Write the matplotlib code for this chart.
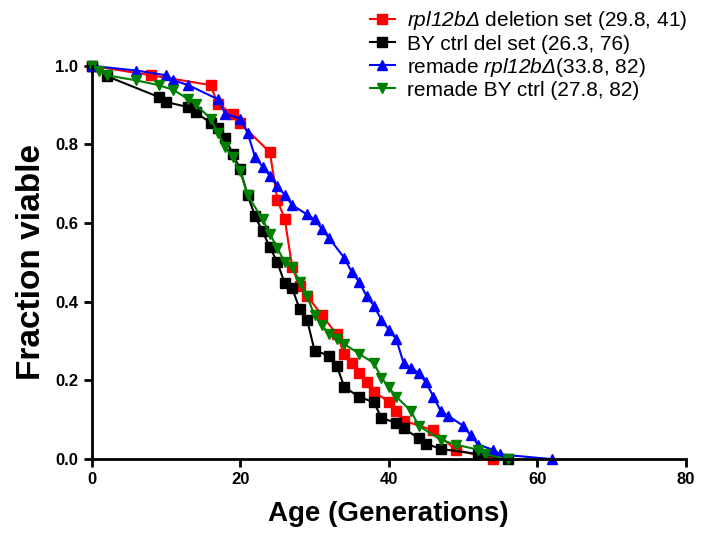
import matplotlib
matplotlib.use('Agg')
import matplotlib.pyplot as plt

plt.rcParams['font.family'] = ['Liberation Sans', 'DejaVu Sans']
plt.rcParams['mathtext.fontset'] = 'custom'
plt.rcParams['mathtext.rm'] = 'Liberation Sans:italic'
plt.rcParams['mathtext.it'] = 'Liberation Sans:italic'

# rpl12b deletion set (n=41)
red_x = [0, 8, 16, 17, 19, 20, 24, 25, 26, 27, 28, 29, 31, 33, 34, 35, 36, 37, 38, 40, 41, 42, 46, 49, 54]
red_y = [1.0, 0.976, 0.951, 0.902, 0.878, 0.854, 0.780, 0.659, 0.610, 0.488, 0.439, 0.415, 0.366,
         0.317, 0.268, 0.244, 0.220, 0.195, 0.171, 0.146, 0.122, 0.098, 0.073, 0.024, 0.0]

# BY ctrl del set (n=76)
black_x = [0, 2, 9, 10, 13, 14, 16, 17, 18, 19, 20, 21, 22, 23, 24, 25, 26, 27, 28, 29, 30, 32, 33,
           34, 36, 38, 39, 41, 42, 44, 45, 47, 52, 56]
black_y = [1.0, 0.974, 0.921, 0.908, 0.895, 0.882, 0.855, 0.842, 0.816, 0.776, 0.737, 0.671, 0.618,
           0.579, 0.539, 0.500, 0.447, 0.434, 0.382, 0.355, 0.276, 0.263, 0.237, 0.184, 0.158, 0.145,
           0.105, 0.092, 0.079, 0.053, 0.039, 0.026, 0.013, 0.0]

# remade rpl12b (n=82)
blue_x = [0, 6, 10, 11, 13, 17, 18, 20, 21, 22, 23, 24, 25, 26, 27, 29, 30, 31, 32, 34, 35, 36, 37,
          38, 39, 40, 41, 42, 43, 44, 45, 46, 47, 48, 50, 51, 52, 54, 55, 62]
blue_y = [1.0, 0.988, 0.976, 0.963, 0.951, 0.915, 0.878, 0.866, 0.829, 0.768, 0.744, 0.720, 0.695,
          0.671, 0.646, 0.622, 0.610, 0.585, 0.561, 0.512, 0.476, 0.451, 0.415, 0.390, 0.354, 0.329,
          0.305, 0.244, 0.232, 0.220, 0.195, 0.159, 0.122, 0.110, 0.085, 0.061, 0.037, 0.024, 0.012, 0.0]

# remade BY ctrl (n=82)
green_x = [0, 1, 2, 6, 9, 11, 13, 14, 16, 17, 18, 19, 20, 21, 23, 24, 25, 26, 27, 28, 29, 30, 31,
           32, 33, 34, 36, 38, 39, 40, 41, 43, 44, 47, 49, 52, 53, 56]
green_y = [1.0, 0.988, 0.976, 0.963, 0.951, 0.939, 0.915, 0.902, 0.866, 0.829, 0.793, 0.768, 0.732,
           0.671, 0.610, 0.573, 0.537, 0.500, 0.488, 0.451, 0.415, 0.366, 0.341, 0.317, 0.305, 0.293,
           0.268, 0.244, 0.207, 0.183, 0.159, 0.122, 0.085, 0.049, 0.037, 0.024, 0.012, 0.0]

labels = [r'$\mathrm{rpl12b\Delta}$ deletion set (29.8, 41)',
          'BY ctrl del set (26.3, 76)',
          r'remade $\mathrm{rpl12b\Delta}$(33.8, 82)',
          'remade BY ctrl (27.8, 82)']

fig = plt.figure(figsize=(7.16, 5.44), dpi=100)
ax = fig.add_axes([0.128, 0.156, 0.83, 0.723])

series = [(red_x, red_y, '#ff0000', 's'),
          (black_x, black_y, '#000000', 's'),
          (blue_x, blue_y, '#0000ff', '^'),
          (green_x, green_y, '#008000', 'v')]
for (xs, ys, c, m), lab in zip(series, labels):
    ax.plot(xs, ys, color=c, marker=m, markersize=7, lw=1.5, label=lab, clip_on=False)

ax.set_xlim(0, 80)
ax.set_ylim(0, 1.0)
ax.set_xticks([0, 20, 40, 60, 80])
ax.set_yticks([0.0, 0.2, 0.4, 0.6, 0.8, 1.0])
ax.set_yticklabels(['0.0', '0.2', '0.4', '0.6', '0.8', '1.0'])
for s in ['top', 'right']:
    ax.spines[s].set_visible(False)
for s in ['left', 'bottom']:
    ax.spines[s].set_linewidth(2)
ax.tick_params(width=2, length=6, labelsize=12)
for t in ax.get_xticklabels() + ax.get_yticklabels():
    t.set_fontweight('bold')

ax.set_xlabel('Age (Generations)', fontsize=20, fontweight='bold', labelpad=10)
ax.set_ylabel('Fraction viable', fontsize=24, fontweight='bold', labelpad=6)

fig.legend(loc='upper left', bbox_to_anchor=(0.505, 0.998), frameon=False,
           fontsize=15, handlelength=1.2, handletextpad=0.6, labelspacing=0.1,
           borderaxespad=0)

fig.savefig('out.png', dpi=100)
